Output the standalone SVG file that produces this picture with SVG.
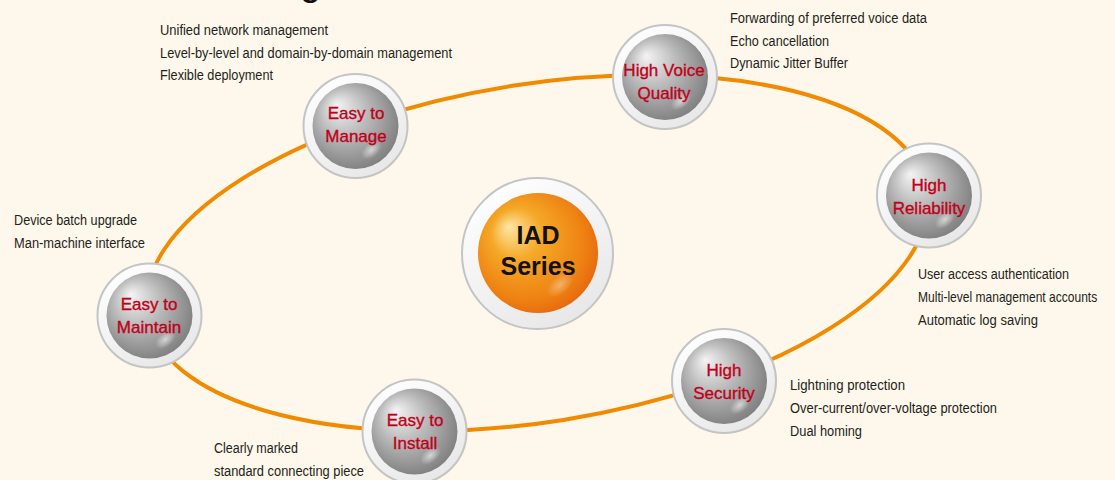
<svg xmlns="http://www.w3.org/2000/svg" width="1115" height="480" viewBox="0 0 1115 480">
<defs>
<radialGradient id="sph" cx="0.45" cy="0.45" r="0.6" fx="0.28" fy="0.25">
<stop offset="0" stop-color="#f4f4f4"/>
<stop offset="0.45" stop-color="#bdbcbc"/>
<stop offset="0.85" stop-color="#8f8e8e"/>
<stop offset="1" stop-color="#7d7c7c"/>
</radialGradient>
<radialGradient id="hl" cx="0.5" cy="0.5" r="0.5">
<stop offset="0" stop-color="#ffffff" stop-opacity="0.6"/>
<stop offset="1" stop-color="#ffffff" stop-opacity="0"/>
</radialGradient>
<linearGradient id="ring" x1="0.2" y1="0" x2="0.8" y2="1">
<stop offset="0" stop-color="#ffffff"/>
<stop offset="1" stop-color="#e6e6e6"/>
</linearGradient>
<radialGradient id="orb" cx="0.45" cy="0.45" r="0.6" fx="0.25" fy="0.28">
<stop offset="0" stop-color="#fde6a6"/>
<stop offset="0.35" stop-color="#f5a928"/>
<stop offset="0.8" stop-color="#ee8112"/>
<stop offset="1" stop-color="#e6650e"/>
</radialGradient>
<g id="ball">
<circle r="52" fill="url(#ring)" stroke="#c4c4c4" stroke-width="2"/>
<circle r="43" fill="url(#sph)"/>
<ellipse cx="16" cy="24" rx="12" ry="7" transform="rotate(-40 16 24)" fill="url(#hl)"/>
</g>
</defs>
<style>
.desc{font-family:"Liberation Sans",Arial,sans-serif;font-size:14px;fill:#231f20;}
.lab{font-family:"Liberation Sans",Arial,sans-serif;font-size:17px;fill:#c0001a;stroke:#c0001a;stroke-width:0.35;text-anchor:middle;}
.core{font-family:"Liberation Sans",Arial,sans-serif;font-size:25px;font-weight:bold;fill:#111;text-anchor:middle;}
.ln{fill:none;stroke:#f08a00;stroke-width:4;}
</style>
<rect width="1115" height="480" fill="#fef7eb"/>
<text x="300" y="-5" font-family="Liberation Sans, Arial, sans-serif" font-size="38" fill="#111">g</text>
<g id="connectors">
<ellipse class="ln" cx="537" cy="253" rx="395" ry="169" transform="rotate(-9 537 253)"/>
</g>
<g id="node-core">
<circle cx="537.5" cy="253.5" r="75.5" fill="url(#ring)" stroke="#c4c4c4" stroke-width="2"/>
<circle cx="538" cy="253" r="60" fill="url(#orb)"/>
<ellipse cx="560" cy="285" rx="16" ry="9" transform="rotate(-40 560 285)" fill="url(#hl)" opacity="0.6"/>
<text class="core" x="538" y="244">IAD</text>
<text class="core" x="538" y="275">Series</text>
</g>
<g id="node-manage">
<use href="#ball" x="355.5" y="126"/>
<text class="lab" x="356" y="119">Easy to</text>
<text class="lab" x="356" y="142">Manage</text>
<text class="desc" x="160" y="35" textLength="168" lengthAdjust="spacingAndGlyphs">Unified network management</text>
<text class="desc" x="160" y="57.5" textLength="292" lengthAdjust="spacingAndGlyphs">Level-by-level and domain-by-domain management</text>
<text class="desc" x="160" y="80" textLength="113" lengthAdjust="spacingAndGlyphs">Flexible deployment</text>
</g>
<g id="node-voice">
<use href="#ball" x="665" y="77"/>
<text class="lab" x="664" y="76">High Voice</text>
<text class="lab" x="664" y="99">Quality</text>
<text class="desc" x="730" y="23" textLength="197" lengthAdjust="spacingAndGlyphs">Forwarding of preferred voice data</text>
<text class="desc" x="730" y="46" textLength="99" lengthAdjust="spacingAndGlyphs">Echo cancellation</text>
<text class="desc" x="730" y="68" textLength="118" lengthAdjust="spacingAndGlyphs">Dynamic Jitter Buffer</text>
</g>
<g id="node-reliability">
<use href="#ball" x="929" y="195.5"/>
<text class="lab" x="929" y="191">High</text>
<text class="lab" x="929" y="214">Reliability</text>
<text class="desc" x="918" y="279" textLength="151" lengthAdjust="spacingAndGlyphs">User access authentication</text>
<text class="desc" transform="translate(918 302) scale(0.86 1)">Multi-level management accounts</text>
<text class="desc" x="918" y="325" textLength="120" lengthAdjust="spacingAndGlyphs">Automatic log saving</text>
</g>
<g id="node-maintain">
<use href="#ball" x="149.5" y="315.5"/>
<text class="lab" x="149" y="310">Easy to</text>
<text class="lab" x="149" y="333">Maintain</text>
<text class="desc" x="14" y="225" textLength="123" lengthAdjust="spacingAndGlyphs">Device batch upgrade</text>
<text class="desc" x="14" y="248" textLength="131" lengthAdjust="spacingAndGlyphs">Man-machine interface</text>
</g>
<g id="node-install">
<use href="#ball" x="414.5" y="431.5"/>
<text class="lab" x="415" y="426">Easy to</text>
<text class="lab" x="415" y="449">Install</text>
<text class="desc" x="214" y="453" textLength="84" lengthAdjust="spacingAndGlyphs">Clearly marked</text>
<text class="desc" x="214" y="476" textLength="150" lengthAdjust="spacingAndGlyphs">standard connecting piece</text>
</g>
<g id="node-security">
<use href="#ball" x="724" y="381"/>
<text class="lab" x="724" y="376">High</text>
<text class="lab" x="724" y="399">Security</text>
<text class="desc" x="790" y="390" textLength="115" lengthAdjust="spacingAndGlyphs">Lightning protection</text>
<text class="desc" x="790" y="413" textLength="207" lengthAdjust="spacingAndGlyphs">Over-current/over-voltage protection</text>
<text class="desc" x="790" y="436" textLength="72" lengthAdjust="spacingAndGlyphs">Dual homing</text>
</g>
</svg>
